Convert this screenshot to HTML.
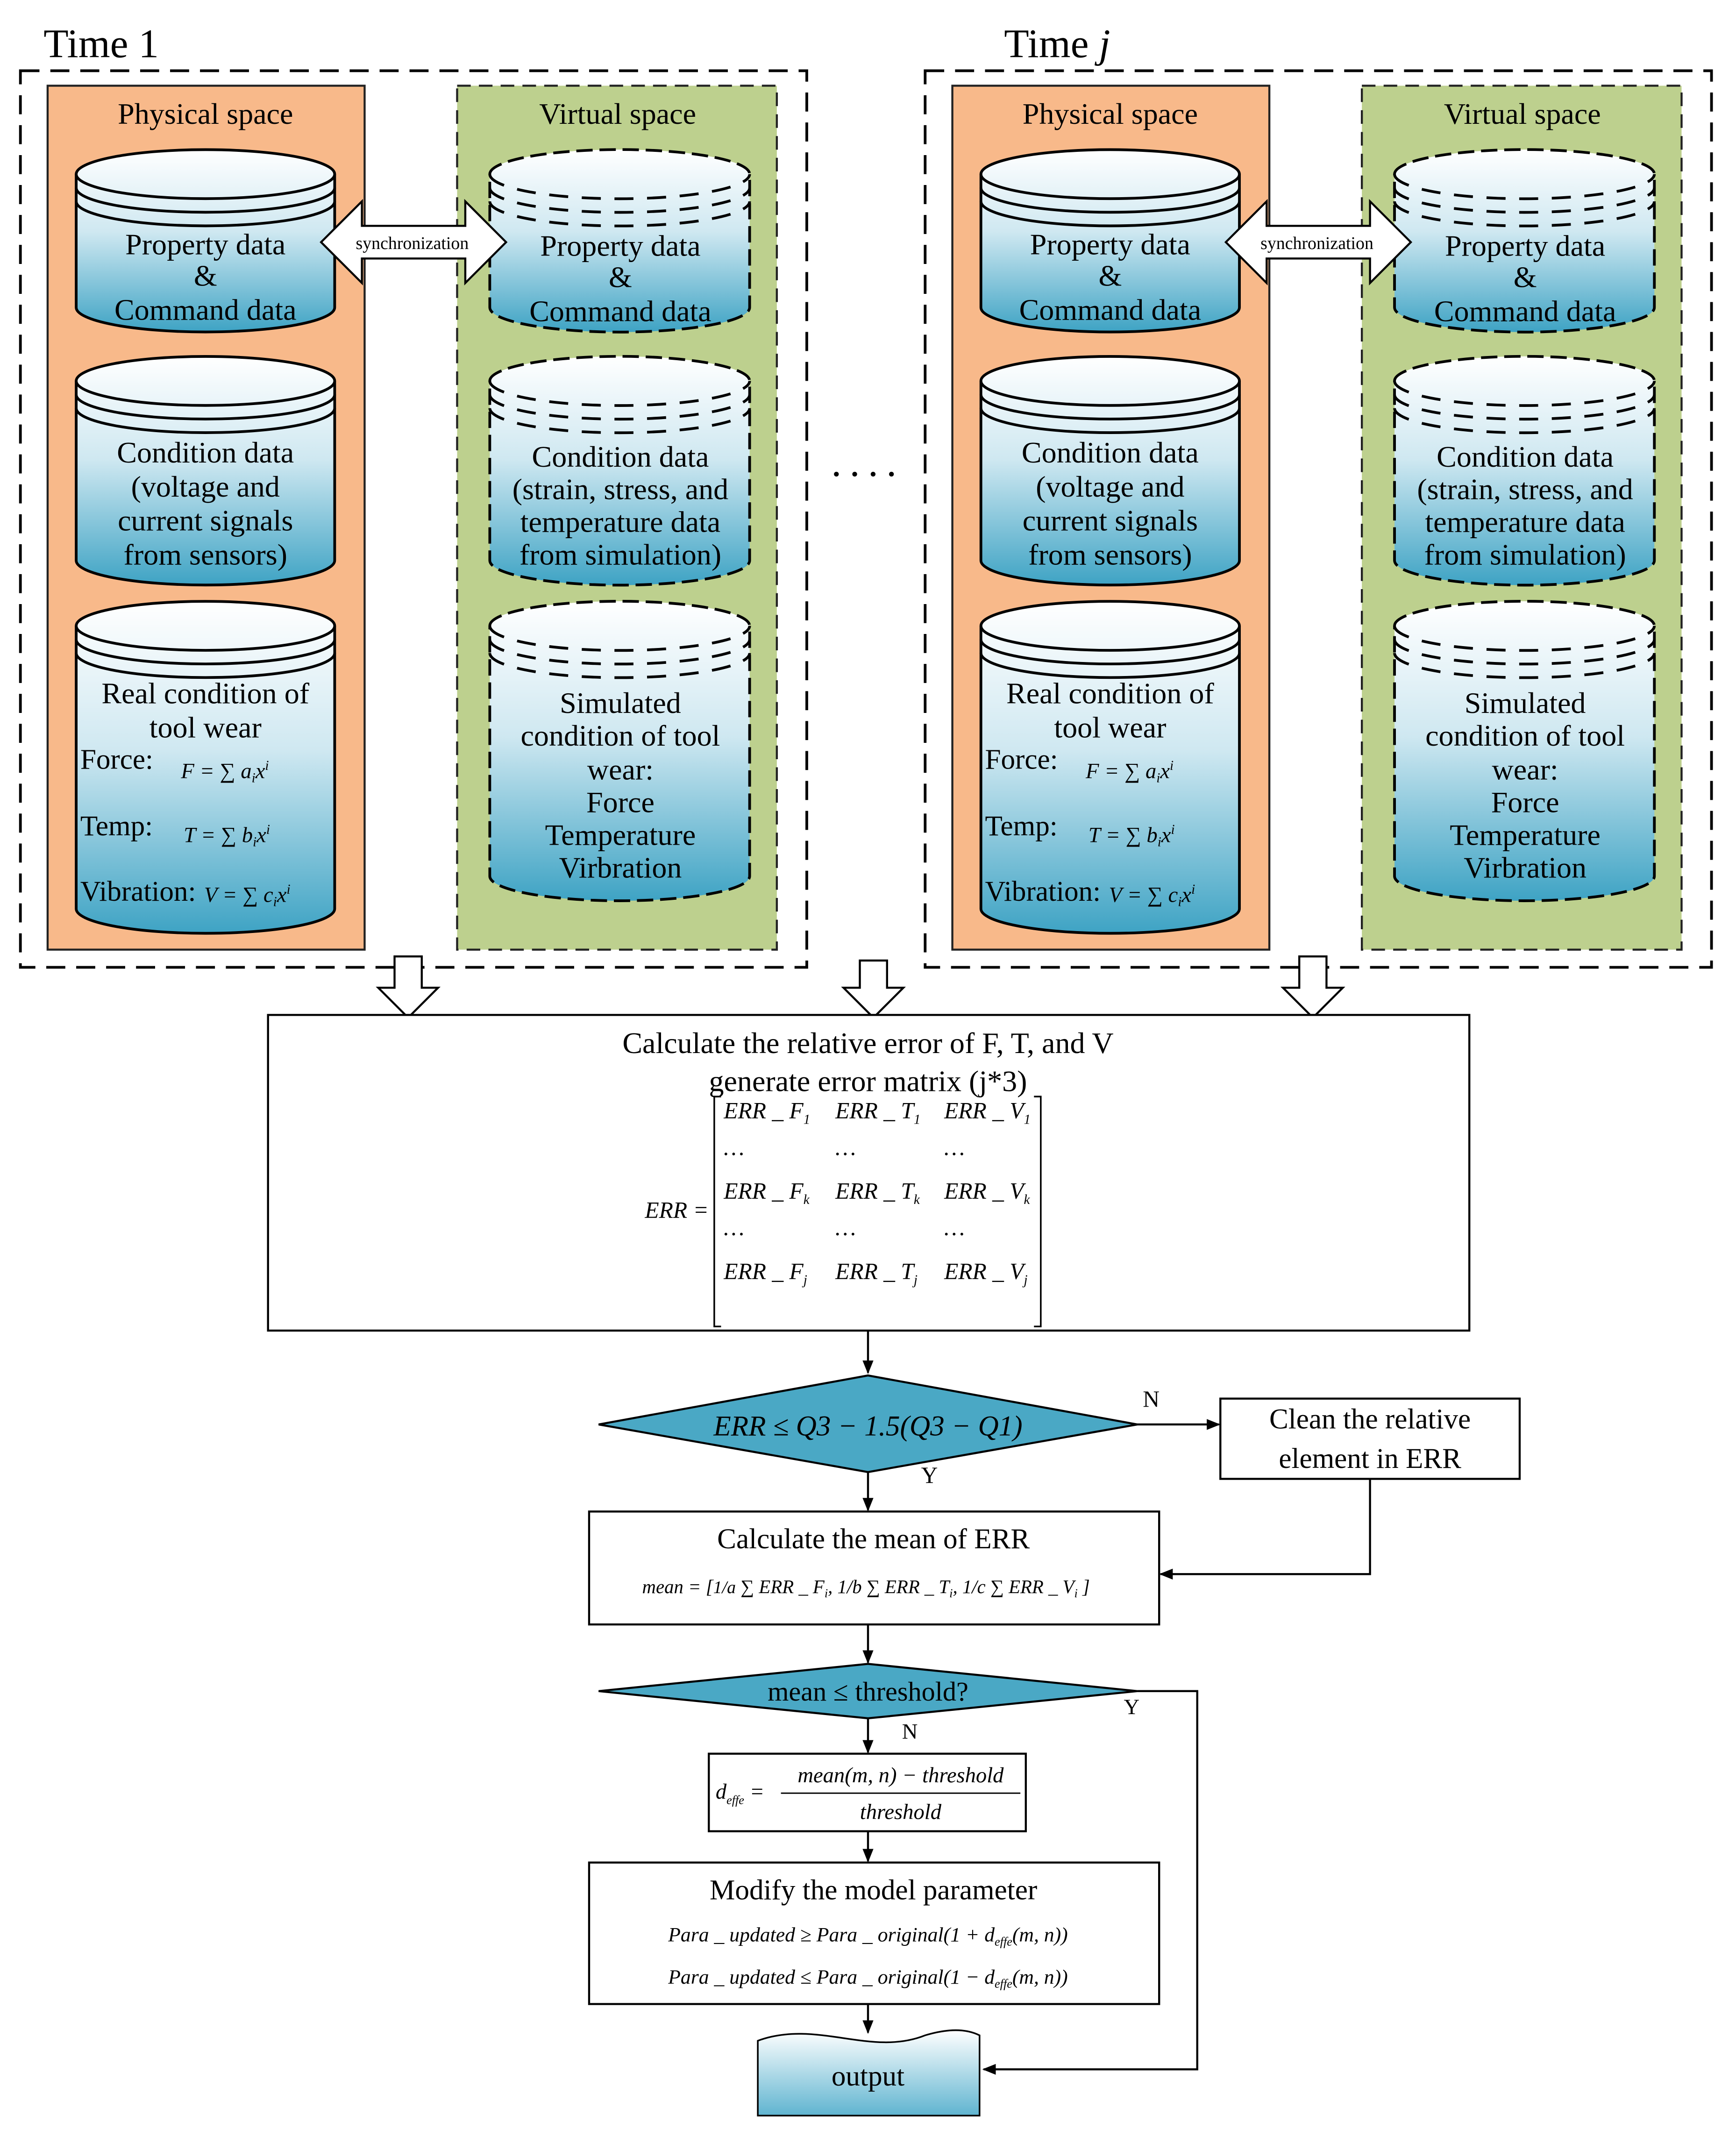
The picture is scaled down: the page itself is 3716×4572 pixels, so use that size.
<!DOCTYPE html>
<html><head><meta charset="utf-8"><style>
html,body{margin:0;padding:0;background:#fff}
svg{display:block}
svg text{font-family:"Liberation Serif",serif;fill:#000}
.i{font-style:italic}
</style></head><body>
<svg width="3716" height="4572" viewBox="0 0 1276 1570" preserveAspectRatio="none" xmlns="http://www.w3.org/2000/svg" font-family="Liberation Serif, serif">
<defs>
<linearGradient id="cg" x1="0" y1="0" x2="0" y2="1">
<stop offset="0" stop-color="#ffffff"/><stop offset="0.45" stop-color="#cfe8f1"/><stop offset="1" stop-color="#3ea3c4"/></linearGradient>
<linearGradient id="og" x1="0" y1="0" x2="0" y2="1">
<stop offset="0" stop-color="#ffffff"/><stop offset="1" stop-color="#5fb4d0"/></linearGradient>
<marker id="ah" markerWidth="10" markerHeight="10" refX="9" refY="5" orient="auto" markerUnits="userSpaceOnUse"><path d="M0,1 L10,5 L0,9 z" fill="#000"/></marker>
</defs>
<rect width="1276" height="1570" fill="#fff"/>

<text x="32" y="42" font-size="30">Time 1</text>
<text x="738" y="42" font-size="30">Time <tspan class="i">j</tspan></text>

<g id="p1">
<rect x="15" y="52" width="578" height="659" fill="none" stroke="#000" stroke-width="2" stroke-dasharray="14,8"/>
<rect x="35" y="63" width="233" height="635" fill="#f8b98a" stroke="#222" stroke-width="1.5"/>
<rect x="336" y="63" width="235" height="635" fill="#bdd08e" stroke="#222" stroke-width="1.5" stroke-dasharray="10,6"/>
<text x="151" y="91" font-size="22" text-anchor="middle">Physical space</text>
<text x="454" y="91" font-size="22" text-anchor="middle">Virtual space</text>

<path d="M56,128 A95,18 0 0 1 246,128 L246,226 A95,18 0 0 1 56,226 Z" fill="url(#cg)" stroke="#000" stroke-width="2"/>
<path d="M56,128 A95,18 0 0 0 246,128 M56,138 A95,18 0 0 0 246,138 M56,148 A95,18 0 0 0 246,148" fill="none" stroke="#000" stroke-width="2"/>
<text x="151" y="187" font-size="22" text-anchor="middle">Property data</text>
<text x="151" y="210" font-size="22" text-anchor="middle">&amp;</text>
<text x="151" y="235" font-size="22" text-anchor="middle">Command  data</text>

<path d="M56,280 A95,18 0 0 1 246,280 L246,412 A95,18 0 0 1 56,412 Z" fill="url(#cg)" stroke="#000" stroke-width="2"/>
<path d="M56,280 A95,18 0 0 0 246,280 M56,290 A95,18 0 0 0 246,290 M56,300 A95,18 0 0 0 246,300" fill="none" stroke="#000" stroke-width="2"/>
<text x="151" y="340" font-size="22" text-anchor="middle">Condition  data</text>
<text x="151" y="365" font-size="22" text-anchor="middle">(voltage and</text>
<text x="151" y="390" font-size="22" text-anchor="middle">current signals</text>
<text x="151" y="415" font-size="22" text-anchor="middle">from sensors)</text>

<path d="M56,460 A95,18 0 0 1 246,460 L246,668 A95,18 0 0 1 56,668 Z" fill="url(#cg)" stroke="#000" stroke-width="2"/>
<path d="M56,460 A95,18 0 0 0 246,460 M56,470 A95,18 0 0 0 246,470 M56,480 A95,18 0 0 0 246,480" fill="none" stroke="#000" stroke-width="2"/>
<text x="151" y="517" font-size="22" text-anchor="middle">Real condition of</text>
<text x="151" y="542" font-size="22" text-anchor="middle">tool wear</text>
<text x="59" y="565" font-size="21">Force:</text>
<text x="133" y="572" font-size="16" class="i">F = ∑ a<tspan font-size="10" dy="3">i</tspan><tspan dy="-3">x</tspan><tspan font-size="10" dy="-6">i</tspan></text>
<text x="59" y="614" font-size="21">Temp:</text>
<text x="135" y="619" font-size="16" class="i">T = ∑ b<tspan font-size="10" dy="3">i</tspan><tspan dy="-3">x</tspan><tspan font-size="10" dy="-6">i</tspan></text>
<text x="59" y="662" font-size="21">Vibration:</text>
<text x="150" y="663" font-size="16" class="i">V = ∑ c<tspan font-size="10" dy="3">i</tspan><tspan dy="-3">x</tspan><tspan font-size="10" dy="-6">i</tspan></text>

<path d="M360,128 A95,18 0 0 1 551,128 L551,226 A95,18 0 0 1 360,226 Z" fill="url(#cg)" stroke="#000" stroke-width="2" stroke-dasharray="12,5"/>
<path d="M360,128 A95,18 0 0 0 551,128 M360,138 A95,18 0 0 0 551,138 M360,148 A95,18 0 0 0 551,148" fill="none" stroke="#000" stroke-width="2" stroke-dasharray="14,10"/>
<text x="456" y="188" font-size="22" text-anchor="middle">Property data</text>
<text x="456" y="211" font-size="22" text-anchor="middle">&amp;</text>
<text x="456" y="236" font-size="22" text-anchor="middle">Command  data</text>

<path d="M360,280 A95,18 0 0 1 551,280 L551,412 A95,18 0 0 1 360,412 Z" fill="url(#cg)" stroke="#000" stroke-width="2" stroke-dasharray="12,5"/>
<path d="M360,280 A95,18 0 0 0 551,280 M360,290 A95,18 0 0 0 551,290 M360,300 A95,18 0 0 0 551,300" fill="none" stroke="#000" stroke-width="2" stroke-dasharray="14,10"/>
<text x="456" y="343" font-size="22" text-anchor="middle">Condition  data</text>
<text x="456" y="367" font-size="22" text-anchor="middle">(strain, stress, and</text>
<text x="456" y="391" font-size="22" text-anchor="middle">temperature data</text>
<text x="456" y="415" font-size="22" text-anchor="middle">from simulation)</text>

<path d="M360,460 A95,18 0 0 1 551,460 L551,644 A95,18 0 0 1 360,644 Z" fill="url(#cg)" stroke="#000" stroke-width="2" stroke-dasharray="12,5"/>
<path d="M360,460 A95,18 0 0 0 551,460 M360,470 A95,18 0 0 0 551,470 M360,480 A95,18 0 0 0 551,480" fill="none" stroke="#000" stroke-width="2" stroke-dasharray="14,10"/>
<text x="456" y="524" font-size="22" text-anchor="middle">Simulated</text>
<text x="456" y="548" font-size="22" text-anchor="middle">condition of tool</text>
<text x="456" y="573" font-size="22" text-anchor="middle">wear:</text>
<text x="456" y="597" font-size="22" text-anchor="middle">Force</text>
<text x="456" y="621" font-size="22" text-anchor="middle">Temperature</text>
<text x="456" y="645" font-size="22" text-anchor="middle">Virbration</text>

<path d="M236,178 L266,148 L266,166 L342,166 L342,148 L372,178 L342,208 L342,190 L266,190 L266,208 Z" fill="#fff" stroke="#000" stroke-width="1.5"/>
<text x="303" y="183" font-size="13" text-anchor="middle">synchronization</text>
</g>
<use href="#p1" transform="translate(665,0)"/>

<text x="638" y="350" font-size="30" text-anchor="middle" letter-spacing="6">....</text>

<g fill="#fff" stroke="#000" stroke-width="1.5">
<path d="M290,703 L310,703 L310,726 L322,726 L300,748 L278,726 L290,726 Z"/>
<path d="M632,706 L652,706 L652,726 L664,726 L642,748 L620,726 L632,726 Z"/>
<path d="M955,703 L975,703 L975,726 L987,726 L965,748 L943,726 L955,726 Z"/>
</g>

<rect x="197" y="746" width="883" height="232" fill="#fff" stroke="#000" stroke-width="1.5"/>
<text x="638" y="774" font-size="22" text-anchor="middle">Calculate the relative error of F, T, and V</text>
<text x="638" y="802" font-size="22" text-anchor="middle">generate error matrix (j*3)</text>
<text x="474" y="895" font-size="17" class="i">ERR =</text>
<path d="M530,806 L525,806 L525,975 L530,975 M760,806 L765,806 L765,975 L760,975" fill="none" stroke="#000" stroke-width="1.2"/>
<g font-size="17" class="i">
<text x="532" y="822">ERR _ F<tspan font-size="10" dy="4">1</tspan></text>
<text x="614" y="822">ERR _ T<tspan font-size="10" dy="4">1</tspan></text>
<text x="694" y="822">ERR _ V<tspan font-size="10" dy="4">1</tspan></text>
<text x="532" y="849">…</text><text x="614" y="849">…</text><text x="694" y="849">…</text>
<text x="532" y="881">ERR _ F<tspan font-size="10" dy="4">k</tspan></text>
<text x="614" y="881">ERR _ T<tspan font-size="10" dy="4">k</tspan></text>
<text x="694" y="881">ERR _ V<tspan font-size="10" dy="4">k</tspan></text>
<text x="532" y="908">…</text><text x="614" y="908">…</text><text x="694" y="908">…</text>
<text x="532" y="940">ERR _ F<tspan font-size="10" dy="4">j</tspan></text>
<text x="614" y="940">ERR _ T<tspan font-size="10" dy="4">j</tspan></text>
<text x="694" y="940">ERR _ V<tspan font-size="10" dy="4">j</tspan></text>
</g>

<g stroke="#000" stroke-width="1.5" fill="none">
<line x1="638" y1="978" x2="638" y2="1009" marker-end="url(#ah)"/>
<line x1="836" y1="1047" x2="896" y2="1047" marker-end="url(#ah)"/>
<line x1="638" y1="1082" x2="638" y2="1110" marker-end="url(#ah)"/>
<polyline points="1007,1087 1007,1157 853,1157" marker-end="url(#ah)"/>
<line x1="638" y1="1194" x2="638" y2="1222" marker-end="url(#ah)"/>
<line x1="638" y1="1263" x2="638" y2="1288" marker-end="url(#ah)"/>
<polyline points="836,1243 880,1243 880,1521 723,1521" marker-end="url(#ah)"/>
<line x1="638" y1="1346" x2="638" y2="1368" marker-end="url(#ah)"/>
<line x1="638" y1="1473" x2="638" y2="1494" marker-end="url(#ah)"/>
</g>

<path d="M440,1047 L638,1011 L836,1047 L638,1082 Z" fill="#4aa8c5" stroke="#000" stroke-width="1.5"/>
<text x="638" y="1055" font-size="21" text-anchor="middle" class="i">ERR ≤ Q3 − 1.5(Q3 − Q1)</text>
<text x="840" y="1034" font-size="17">N</text>
<text x="677" y="1090" font-size="17">Y</text>

<rect x="897" y="1028" width="220" height="59" fill="#fff" stroke="#000" stroke-width="1.5"/>
<text x="1007" y="1050" font-size="21" text-anchor="middle">Clean the relative</text>
<text x="1007" y="1079" font-size="21" text-anchor="middle">element in ERR</text>

<rect x="433" y="1111" width="419" height="83" fill="#fff" stroke="#000" stroke-width="1.5"/>
<text x="642" y="1138" font-size="21" text-anchor="middle">Calculate the mean of ERR</text>
<text x="472" y="1171" font-size="14" class="i">mean = [<tspan font-size="13">1/a</tspan> ∑ ERR _ F<tspan font-size="9" dy="3">i</tspan><tspan dy="-3">, 1/b ∑ ERR _ T</tspan><tspan font-size="9" dy="3">i</tspan><tspan dy="-3">, 1/c ∑ ERR _ V</tspan><tspan font-size="9" dy="3">i</tspan><tspan dy="-3"> ]</tspan></text>

<path d="M440,1243 L638,1223 L836,1243 L638,1263 Z" fill="#4aa8c5" stroke="#000" stroke-width="1.5"/>
<text x="638" y="1250" font-size="20" text-anchor="middle">mean ≤ threshold?</text>
<text x="826" y="1260" font-size="16">Y</text>
<text x="663" y="1278" font-size="16">N</text>

<rect x="521" y="1289" width="233" height="57" fill="#fff" stroke="#000" stroke-width="1.5"/>
<text x="526" y="1322" font-size="16" class="i">d<tspan font-size="9" dy="4">effe</tspan><tspan dy="-4"> =</tspan></text>
<text x="662" y="1310" font-size="16" text-anchor="middle" class="i">mean(m, n) − threshold</text>
<line x1="574" y1="1318" x2="750" y2="1318" stroke="#000" stroke-width="1"/>
<text x="662" y="1337" font-size="16" text-anchor="middle" class="i">threshold</text>

<rect x="433" y="1369" width="419" height="104" fill="#fff" stroke="#000" stroke-width="1.5"/>
<text x="642" y="1396" font-size="21" text-anchor="middle">Modify the model parameter</text>
<text x="638" y="1427" font-size="15" text-anchor="middle" class="i">Para _ updated ≥ Para _ original(1 + d<tspan font-size="9" dy="3">effe</tspan><tspan dy="-3">(m, n))</tspan></text>
<text x="638" y="1458" font-size="15" text-anchor="middle" class="i">Para _ updated ≤ Para _ original(1 − d<tspan font-size="9" dy="3">effe</tspan><tspan dy="-3">(m, n))</tspan></text>

<path d="M557,1500 C600,1484 640,1512 680,1496 C700,1490 712,1492 720,1496 L720,1555 L557,1555 Z" fill="url(#og)" stroke="#000" stroke-width="1.2"/>
<text x="638" y="1533" font-size="21" text-anchor="middle">output</text>
</svg>
</body></html>
